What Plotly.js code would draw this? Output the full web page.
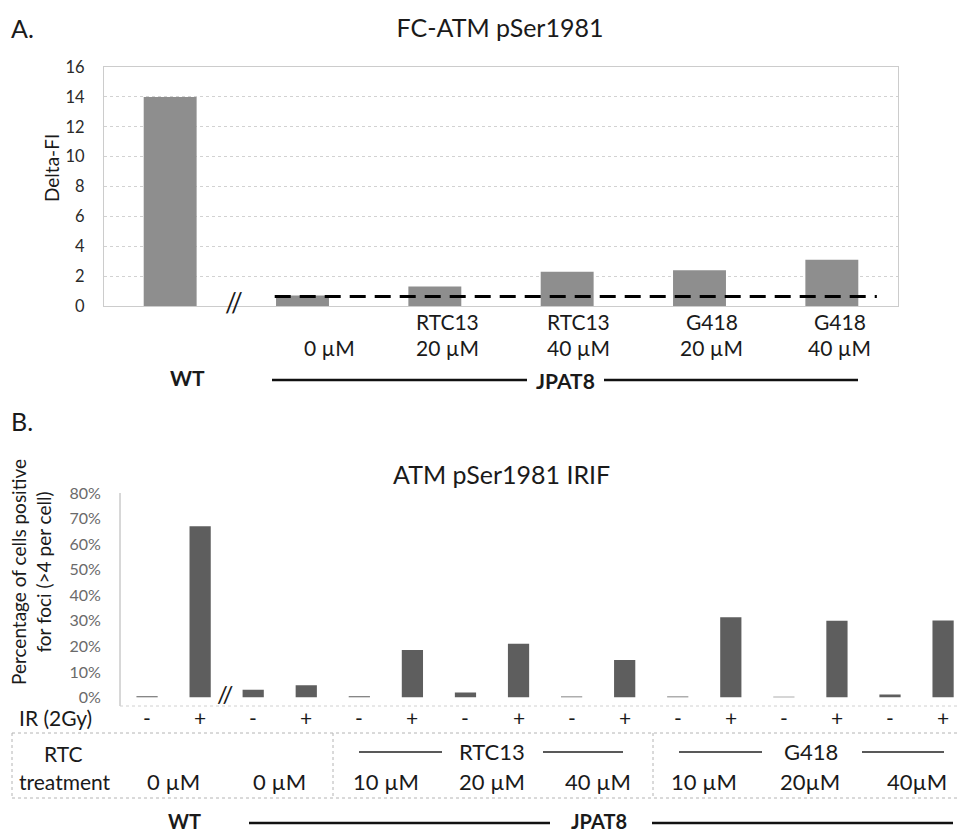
<!DOCTYPE html>
<html>
<head>
<meta charset="utf-8">
<script src="https://cdn.plot.ly/plotly-3.0.1.min.js"></script>
<style>html,body{margin:0;padding:0;background:#fff;}#chart{width:959px;height:834px;}</style>
</head>
<body>
<div id="chart"></div>
<script>
// ---------- DATA ----------
// Panel A: FC-ATM pSer1981
const topCats = ['WT', 'JPAT8 0 µM', 'JPAT8 RTC13 20 µM', 'JPAT8 RTC13 40 µM', 'JPAT8 G418 20 µM', 'JPAT8 G418 40 µM'];
const topVals = [14.0, 0.7, 1.3, 2.3, 2.4, 3.1];
const topBaseline = 0.63;
const topDrugLabels = ['', '', 'RTC13', 'RTC13', 'G418', 'G418'];
const topDoseLabels = ['', '0 µM', '20 µM', '40 µM', '20 µM', '40 µM'];
const topTicks = [0, 2, 4, 6, 8, 10, 12, 14, 16];

// Panel B: ATM pSer1981 IRIF (percent of cells)
const bCell  = ['WT','WT','JPAT8','JPAT8','JPAT8','JPAT8','JPAT8','JPAT8','JPAT8','JPAT8','JPAT8','JPAT8','JPAT8','JPAT8','JPAT8','JPAT8'];
const bTreat = ['0 µM','0 µM','0 µM','0 µM','RTC13 10 µM','RTC13 10 µM','RTC13 20 µM','RTC13 20 µM','RTC13 40 µM','RTC13 40 µM','G418 10 µM','G418 10 µM','G418 20 µM','G418 20 µM','G418 40 µM','G418 40 µM'];
const bIR    = ['-','+','-','+','-','+','-','+','-','+','-','+','-','+','-','+'];
const bVals  = [0.5, 67, 3.0, 4.8, 0.5, 18.6, 2.0, 21, 0.4, 14.7, 0.4, 31.4, 0.3, 30, 1.2, 30.1];
const bDoseLabels = ['0 µM', '0 µM', '10 µM', '20 µM', '40 µM', '10 µM', '20µM', '40µM'];
const bTicks = [0, 10, 20, 30, 40, 50, 60, 70, 80];

// ---------- helpers (layout positions in pixels -> paper) ----------
const W = 959, H = 834;
const px = x => x / W;
const py = y => (H - y) / H;
const FONT = 'Lato, "Open Sans", "DejaVu Sans", sans-serif';
const bCats = bCell.map((c, i) => c + ' ' + bTreat[i] + ' ' + bIR[i]);

const traces = [
  {
    type: 'bar', x: topCats, y: topVals, xaxis: 'x', yaxis: 'y',
    marker: {color: '#8e8e8e'}, width: 0.4, hoverinfo: 'x+y', showlegend: false
  },
  {
    type: 'bar', x: bCats, y: bVals, xaxis: 'x2', yaxis: 'y2',
    marker: {color: '#5e5e5e'}, width: 0.4, hoverinfo: 'x+y', showlegend: false
  }
];

const ann = [];
const txt = (text, x, y, size, opts) => Object.assign({
  text: text, x: px(x), y: py(y), xref: 'paper', yref: 'paper',
  showarrow: false, xanchor: 'center', yanchor: 'middle',
  font: {family: FONT, size: size, color: '#1a1a1a'}
}, opts || {});

// Panel letters
ann.push(txt('A.', 22, 28, 25));
ann.push(txt('B.', 22, 421, 25));

// Panel A labels
ann.push(txt('Delta-FI', 52, 168, 19, {textangle: -90}));
const topShift = [0, 27, 13, 11, 12, 8];
topCats.forEach((c, i) => {
  if (topDrugLabels[i]) ann.push({text: topDrugLabels[i], x: i, y: py(321), xref: 'x', yref: 'paper', xshift: topShift[i],
    showarrow: false, xanchor: 'center', yanchor: 'middle', font: {family: FONT, size: 21, color: '#1a1a1a'}});
  if (topDoseLabels[i]) ann.push({text: topDoseLabels[i], x: i, y: py(348), xref: 'x', yref: 'paper', xshift: topShift[i],
    showarrow: false, xanchor: 'center', yanchor: 'middle', font: {family: FONT, size: 21, color: '#1a1a1a'}});
});
ann.push(txt('<b>WT</b>', 187, 378, 21));
ann.push(txt('<b>JPAT8</b>', 565, 380, 21));
ann.push(txt('//', 234, 302, 26, {font: {family: FONT, size: 26, color: '#1a1a1a'}}));

// Panel B labels
ann.push(txt('ATM pSer1981 IRIF', 501, 474, 25));
ann.push(txt('Percentage of cells positive<br>for foci (>4 per cell)', 31, 572, 19, {textangle: -90}));
ann.push(txt('//', 225, 693, 24));
ann.push(txt('IR (2Gy)', 55, 717, 21));
bCats.forEach((c, i) => {
  ann.push({text: bIR[i], x: i, y: py(717), xref: 'x2', yref: 'paper', showarrow: false,
    xanchor: 'center', yanchor: 'middle', font: {family: FONT, size: 21, color: '#1a1a1a'}});
});
ann.push(txt('RTC', 63, 753, 21));
ann.push(txt('treatment', 65, 781, 21));
bDoseLabels.forEach((d, k) => {
  ann.push({text: d, x: 2 * k + 0.5, y: py(781), xref: 'x2', yref: 'paper', showarrow: false,
    xanchor: 'center', yanchor: 'middle', font: {family: FONT, size: 22, color: '#1a1a1a'}});
});
ann.push(txt('RTC13', 492, 751, 22));
ann.push(txt('G418', 811, 751, 22));
ann.push(txt('<b>WT</b>', 184, 821, 20));
ann.push(txt('<b>JPAT8</b>', 599, 821, 20));

const hline = (x0, x1, y, color, width, dash) => ({
  type: 'line', xref: 'paper', yref: 'paper', x0: px(x0), x1: px(x1), y0: py(y), y1: py(y),
  line: {color: color, width: width, dash: dash || 'solid'}
});
const vline = (x, y0, y1, color, width, dash) => ({
  type: 'line', xref: 'paper', yref: 'paper', x0: px(x), x1: px(x), y0: py(y0), y1: py(y1),
  line: {color: color, width: width, dash: dash || 'solid'}
});

const shapes = [
  // baseline dashed line (panel A)
  {type: 'line', xref: 'x', yref: 'y', x0: 0.79, x1: 5.34, y0: topBaseline, y1: topBaseline,
   line: {color: '#000', width: 3, dash: '16px,9px'}},
  // group lines panel A
  hline(272, 527, 380, '#111', 2.5),
  hline(604, 858, 380, '#111', 2.5),
  // panel B axis
  vline(120, 493, 706, '#b0b0b0', 1),
  // table lines
  hline(120, 959, 706, '#d0d0d0', 1, 'dot'),
  hline(12, 959, 733, '#b4b4b4', 1, 'dot'),
  hline(12, 959, 798, '#b4b4b4', 1, 'dot'),
  vline(12, 733, 798, '#b4b4b4', 1, 'dot'),
  vline(333, 733, 798, '#b4b4b4', 1, 'dot'),
  vline(653, 733, 798, '#b4b4b4', 1, 'dot'),
  // RTC13 / G418 bracket lines
  hline(359, 442, 752, '#222', 1.5),
  hline(543, 623, 752, '#222', 1.5),
  hline(679, 762, 752, '#222', 1.5),
  hline(862, 944, 752, '#222', 1.5),
  // group lines panel B
  hline(249, 550, 823, '#111', 2.5),
  hline(652, 953, 823, '#111', 2.5)
];

const layout = {
  width: W, height: H,
  margin: {l: 0, r: 0, t: 0, b: 0, pad: 0},
  paper_bgcolor: '#fff', plot_bgcolor: '#fff',
  font: {family: FONT, color: '#1a1a1a'},
  showlegend: false,
  bargap: 0.6,
  title: {text: 'FC-ATM pSer1981', x: px(500), y: py(28), xref: 'paper', yref: 'paper',
          xanchor: 'center', yanchor: 'middle', font: {family: FONT, size: 25, color: '#1a1a1a'}},
  xaxis: {
    domain: [px(104), px(898)], anchor: 'y', type: 'category',
    categoryorder: 'array', categoryarray: topCats,
    range: [-0.5, 5.5], showticklabels: false, ticks: '', showgrid: false,
    showline: true, linecolor: '#cccccc', linewidth: 1, mirror: true, zeroline: false, fixedrange: true
  },
  yaxis: {
    domain: [py(306), py(67)], anchor: 'x',
    range: [0, 16], tickvals: topTicks, ticktext: topTicks.map(String),
    tickfont: {family: FONT, size: 16.5, color: '#2a2a2a'},
    ticks: 'outside', ticklen: 15, tickcolor: 'rgba(0,0,0,0)',
    showgrid: true, gridcolor: '#d2d2d2', griddash: 'dot', gridwidth: 1,
    showline: true, linecolor: '#cccccc', linewidth: 1, mirror: true, zeroline: false, fixedrange: true
  },
  xaxis2: {
    domain: [px(120), 1], anchor: 'y2', type: 'category',
    categoryorder: 'array', categoryarray: bCats,
    range: [-0.51, 15.3], showticklabels: false, ticks: '', showgrid: false,
    showline: false, zeroline: false, fixedrange: true
  },
  yaxis2: {
    domain: [py(697.5), py(493)], anchor: 'x2',
    range: [0, 80], tickvals: bTicks, ticktext: bTicks.map(v => v + '%'),
    tickfont: {family: FONT, size: 16, color: '#6a6a6a'},
    ticks: 'outside', ticklen: 15, tickcolor: 'rgba(0,0,0,0)',
    showgrid: false, showline: false, zeroline: false, fixedrange: true
  },
  annotations: ann,
  shapes: shapes
};

Plotly.newPlot('chart', traces, layout, {displayModeBar: false, staticPlot: true});
</script>
</body>
</html>
